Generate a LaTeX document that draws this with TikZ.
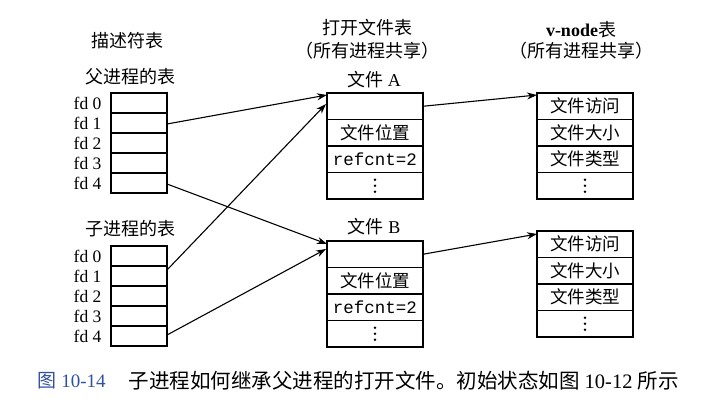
\documentclass[tikz,border=0pt]{standalone}
\usepackage{fontspec}
\setmainfont{Liberation Serif}
\setmonofont{Liberation Mono}
\newfontfamily\zhfont{Noto Sans CJK SC}
\newcommand{\zh}[1]{{\zhfont #1}}
\usetikzlibrary{arrows.meta}
\definecolor{capblue}{RGB}{50,80,160}
\begin{document}
\begin{tikzpicture}[x=1pt,y=-1pt,
  line width=1.1pt,
  fdcell/.style={draw, minimum width=56pt, minimum height=20pt, inner sep=0pt, outer sep=0pt},
  tcell/.style={draw, minimum width=96pt, minimum height=26.5pt, inner sep=0pt, outer sep=0pt},
  ttext/.style={inner sep=0pt, font=\fontsize{17.5}{17.5}\selectfont},
  fdlabel/.style={anchor=east, inner sep=0pt, font=\fontsize{17.5}{17.5}\selectfont},
  head/.style={inner sep=0pt, font=\fontsize{18}{18}\selectfont},
  ptr/.style={-{Stealth[length=10pt,width=7pt]}, line width=1.1pt}]
\useasboundingbox (0,0) rectangle (723,402);

% three vertical dots marking further entries of a table
\newcommand{\moredots}[1]{%
  \foreach \d in {-6,0,6} \fill ([yshift=\d pt]#1.center) circle (1.3pt);}

% column headings
\node[head] (hdesc) at (127,41) {\zh{描述符表}};
\node[head] (hpar) at (130,77) {\zh{父进程的表}};
\node[head] (hchild) at (130,229) {\zh{子进程的表}};
\node[head] (hopen) at (367,28) {\zh{打开文件表}};
\node[head] (hopen2) at (367,51) {\zh{（所有进程共享）}};
\node[head] (hvnode) at (581,30) {\textbf{v-node}\zh{表}};
\node[head] (hvnode2) at (581,51) {\zh{（所有进程共享）}};
\node[head] (hfa) at (374,80) {\zh{文件} A};
\node[head] (hfb) at (374,227) {\zh{文件} B};

% parent descriptor table
\foreach \i in {0,...,4} {
  \node[fdcell] (p\i) at (139,103+20*\i) {};
  \node[fdlabel] (pl\i) at (102,103+20*\i) {fd \i};
}
% child descriptor table
\foreach \i in {0,...,4} {
  \node[fdcell] (c\i) at (139,256+20*\i) {};
  \node[fdlabel] (cl\i) at (102,256+20*\i) {fd \i};
}

% open file table entries: cells, then their contents
\foreach \r/\y in {0/106.25,1/132.75,2/159.25,3/185.75} {
  \node[tcell] (fa\r) at (375,\y) {};
  \node[tcell] (fb\r) at (375,\y+148) {};
}
\foreach \n in {fa,fb} {
  \node[ttext] (\n t1) at (\n1) {\zh{文件位置}};
  \node[ttext] (\n t2) at (\n2) {\texttt{refcnt=2}};
  \moredots{\n3}
}

% v-node table entries: cells, then their contents
\foreach \r/\y in {0/106.25,1/132.75,2/159.25,3/185.75} {
  \node[tcell] (va\r) at (585,\y) {};
  \node[tcell] (vb\r) at (585,\y+138) {};
}
\foreach \n in {va,vb} {
  \node[ttext] (\n t0) at (\n0) {\zh{文件访问}};
  \node[ttext] (\n t1) at (\n1) {\zh{文件大小}};
  \node[ttext] (\n t2) at (\n2) {\zh{文件类型}};
  \moredots{\n3}
}

% descriptor -> open file pointers
\draw[ptr] ([yshift=-1pt]p1.east) -- ([yshift=-2pt]fa0.north west);
\draw[ptr] ([yshift=-1pt]p4.east) -- ([yshift=-3pt]fb0.north west);
\draw[ptr] ([yshift=6pt]c1.east) -- ([xshift=-1pt,yshift=-11pt]fa0.north west);
\draw[ptr] ([yshift=1pt]c4.east) -- ([xshift=-1pt,yshift=-8pt]fb0.north west);

% open file -> v-node pointers
\draw[ptr] (fa0.east) -- ([yshift=-2pt]va0.north west);
\draw[ptr] (fb0.east) -- ([yshift=-3pt]vb0.north west);

% caption
\node[anchor=west, inner sep=0pt, text=capblue, font=\fontsize{19}{19}\selectfont] (capnum) at (37,381) {\zh{图} 10-14};
\node[anchor=west, inner sep=0pt, font=\fontsize{20.5}{20.5}\selectfont] (captext) at (128,381) {\zh{子进程如何继承父进程的打开文件。初始状态如图} 10-12 \zh{所示}};
\end{tikzpicture}
\end{document}
